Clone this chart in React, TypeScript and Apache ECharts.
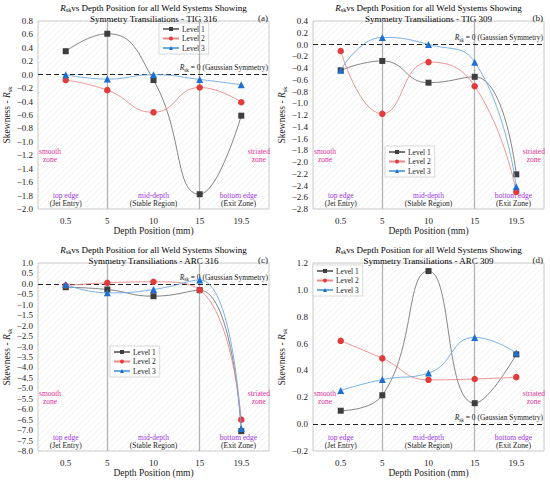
import React, { useEffect, useRef } from "react";
import * as echarts from "echarts";

const depths = [0.5, 5, 10, 15, 19.5];
const xTickLabels = ["0.5", "5", "10", "15", "19.5"];
const levelNames = ["Level 1", "Level 2", "Level 3"];

const tig316L1 = [0.35, 0.61, -0.08, -1.78, -0.61];
const tig316L2 = [-0.08, -0.23, -0.56, -0.19, -0.41];
const tig316L3 = [0.0, -0.065, 0.0, -0.07, -0.15];

const tig309L1 = [-0.44, -0.28, -0.65, -0.55, -2.21];
const tig309L2 = [-0.11, -1.18, -0.3, -0.71, -2.51];
const tig309L3 = [-0.44, 0.12, 0.0, -0.3, -2.42];

const arc316L1 = [-0.16, -0.27, -0.59, -0.3, -7.05];
const arc316L2 = [-0.08, 0.05, 0.1, -0.29, -6.5];
const arc316L3 = [-0.03, -0.43, -0.27, 0.19, -6.92];

const arc309L1 = [0.1, 0.215, 1.14, 0.156, 0.52];
const arc309L2 = [0.62, 0.49, 0.33, 0.336, 0.35];
const arc309L3 = [0.25, 0.332, 0.38, 0.646, 0.53];

const FONT = "Liberation Serif";
const levelMarker = ["rect", "circle", "triangle"];
const levelMarkerSize = [6, 6.5, 7];
const levelMarkerColor = ["#3d3d3d", "#e23b3b", "#1e6fd0"];
const levelLineColor = ["#777777", "#ea8a8a", "#6ea9e2"];

const panels = [
  { name: "TIG 316", tag: "(a)", series: [tig316L1, tig316L2, tig316L3], yMin: -2.0, yMax: 0.8, yStep: 0.2, left: 38, top: 21, leg: [159, 23] },
  { name: "TIG 309", tag: "(b)", series: [tig309L1, tig309L2, tig309L3], yMin: -2.8, yMax: 0.4, yStep: 0.2, left: 313, top: 21, leg: [385, 146] },
  { name: "ARC 316", tag: "(c)", series: [arc316L1, arc316L2, arc316L3], yMin: -8.0, yMax: 1.0, yStep: 0.5, left: 38, top: 263, leg: [110, 346] },
  { name: "ARC 309", tag: "(d)", series: [arc309L1, arc309L2, arc309L3], yMin: -0.2, yMax: 1.2, yStep: 0.2, left: 313, top: 263, leg: [313, 265] },
];
const GW = 231;
const GH = 188;
const X_MIN = -2.5;
const X_MAX = 22.5;

const richBase = (size: number, color = "#222") => ({
  t: { fontFamily: FONT, fontSize: size, color, lineHeight: size + 2 },
  ri: { fontFamily: FONT, fontSize: size, fontStyle: "italic", color, lineHeight: size + 2 },
  rs: { fontFamily: FONT, fontSize: size * 0.68, color, verticalAlign: "bottom", lineHeight: size * 0.68 },
  m: { fontFamily: FONT, fontSize: 7.5, color: "#e0309a", lineHeight: 8 },
  p: { fontFamily: FONT, fontSize: 7.5, color: "#9b35e3", lineHeight: 8 },
  k: { fontFamily: FONT, fontSize: 7.5, color: "#222", lineHeight: 8 },
});

function makeHatch() {
  const c = document.createElement("canvas");
  c.width = 6;
  c.height = 6;
  const ctx = c.getContext("2d");
  if (ctx) {
    ctx.strokeStyle = "rgba(0,0,0,0.055)";
    ctx.lineWidth = 1;
    ctx.beginPath();
    ctx.moveTo(0, 6);
    ctx.lineTo(6, 0);
    ctx.moveTo(-1, 1);
    ctx.lineTo(1, -1);
    ctx.moveTo(5, 7);
    ctx.lineTo(7, 5);
    ctx.stroke();
  }
  return c;
}

function fmtY(v: number) {
  if (Math.abs(v) < 1e-9) return "0.0";
  const s = v.toFixed(1);
  return s.startsWith("-") ? "\u2212" + s.slice(1) : s;
}

export default function App() {
  const ref = useRef<HTMLDivElement>(null);
  useEffect(() => {
    if (!ref.current) return;
    const chart = echarts.init(ref.current, undefined, { renderer: "svg" });
    const hatch = makeHatch();

    const grid = panels.map((p) => ({
      left: p.left,
      top: p.top,
      width: GW,
      height: GH,
      show: true,
      backgroundColor: { image: hatch, repeat: "repeat" } as any,
      borderColor: "#bdbdbd",
      borderWidth: 0.8,
    }));

    const xAxis = panels.map((p, i) => ({
      type: "value",
      gridIndex: i,
      min: X_MIN,
      max: X_MAX,
      name: "Depth Position (mm)",
      nameLocation: "middle",
      nameGap: 16,
      nameTextStyle: { fontFamily: FONT, fontSize: 9.5, color: "#222", verticalAlign: "top" },
      axisLine: { show: false },
      axisTick: { show: false },
      splitLine: { show: false },
      axisLabel: {
        customValues: depths,
        formatter: (v: number) => xTickLabels[depths.indexOf(v)] ?? "",
        fontFamily: FONT,
        fontSize: 9,
        color: "#222",
        margin: 7,
      },
    }));

    const yAxis = panels.map((p, i) => ({
      type: "value",
      gridIndex: i,
      min: p.yMin,
      max: p.yMax,
      interval: p.yStep,
      name: "{t|Skewness - }{ri|R}{rs|sk}",
      nameLocation: "middle",
      nameGap: 24,
      nameTextStyle: { fontFamily: FONT, fontSize: 9.5, color: "#222", rich: richBase(9.5) },
      axisLine: { show: false },
      axisTick: { show: false },
      splitLine: { show: false },
      axisLabel: { formatter: fmtY, fontFamily: FONT, fontSize: 9, color: "#222", margin: 5 },
    }));

    const series: any[] = [];
    panels.forEach((p, pi) => {
      const yr = p.yMax - p.yMin;
      const yAt = (frac: number) => p.yMax - frac * yr;
      p.series.forEach((vals, li) => {
        const s: any = {
          type: "line",
          name: levelNames[li],
          xAxisIndex: pi,
          yAxisIndex: pi,
          data: depths.map((x, k) => [x, vals[k]]),
          smooth: 0.5,
          symbol: levelMarker[li],
          symbolSize: levelMarkerSize[li],
          itemStyle: { color: levelMarkerColor[li] },
          lineStyle: { color: levelLineColor[li], width: 0.9 },
          z: 5 + li,
        };
        if (li === 0) {
          s.markLine = {
            silent: true,
            symbol: "none",
            animation: false,
            data: [
              { xAxis: 5, lineStyle: { color: "#b3b3b3", width: 1.3, type: "solid" }, label: { show: false } },
              { xAxis: 15, lineStyle: { color: "#b3b3b3", width: 1.3, type: "solid" }, label: { show: false } },
              {
                yAxis: 0,
                lineStyle: { color: "#222", width: 1.2, type: [5, 3] },
                label: {
                  show: true,
                  position: "insideEndTop",
                  distance: [1, 2],
                  formatter: "{ri|R}{rs|sk}{t| = 0 (Gaussian Symmetry)}",
                  rich: richBase(7.5),
                },
              },
            ],
          };
          const lbl = (text: string) => ({
            show: true,
            position: "inside",
            formatter: text,
            rich: richBase(7.5),
            align: "center",
          });
          s.markPoint = {
            silent: true,
            animation: false,
            symbol: "circle",
            symbolSize: 0,
            itemStyle: { color: "rgba(0,0,0,0)" },
            data: [
              { coord: [-1.2, yAt(0.713)], label: lbl("{m|smooth}\n{m|zone}") },
              { coord: [21.4, yAt(0.713)], label: lbl("{m|striated}\n{m|zone}") },
              { coord: [0.5, yAt(0.952)], label: lbl("{p|top edge}\n{k|(Jet Entry)}") },
              { coord: [10, yAt(0.952)], label: lbl("{p|mid-depth}\n{k|(Stable Region)}") },
              { coord: [19.2, yAt(0.952)], label: lbl("{p|bottom edge}\n{k|(Exit Zone)}") },
            ],
          };
        }
        series.push(s);
      });
    });

    const legend = panels.map((p) => ({
      data: levelNames,
      orient: "vertical",
      left: p.leg[0],
      top: p.leg[1],
      itemWidth: 16,
      itemHeight: 5,
      itemGap: 1.5,
      padding: [2, 4, 2, 3],
      borderColor: "#cfcfcf",
      borderWidth: 0.8,
      backgroundColor: "#ffffff",
      selectedMode: false,
      textStyle: { fontFamily: FONT, fontSize: 7.5, color: "#222", padding: [0, 0, 0, -2] },
    }));

    const graphic: any[] = [];
    panels.forEach((p) => {
      graphic.push({
        type: "text",
        x: p.left + GW / 2,
        y: p.top - 19,
        silent: true,
        style: {
          text: `{ri|R}{rs|sk}{t|vs Depth Position for all Weld Systems Showing}\n{t|Symmetry Transiliations - ${p.name}}`,
          rich: richBase(9),
          align: "center",
          verticalAlign: "top",
        },
      });
      graphic.push({
        type: "text",
        x: p.left + GW - 1,
        y: p.top - 8,
        silent: true,
        style: { text: p.tag, font: `9px "${FONT}"`, fill: "#222", align: "right", verticalAlign: "top" },
      });
    });

    chart.setOption({
      animation: false,
      backgroundColor: "#ffffff",
      grid,
      xAxis,
      yAxis,
      series,
      legend,
      graphic,
    } as any);
    return () => chart.dispose();
  }, []);
  return <div ref={ref} style={{ position: "absolute", left: 0, top: 0, width: 550, height: 484 }} />;
}
